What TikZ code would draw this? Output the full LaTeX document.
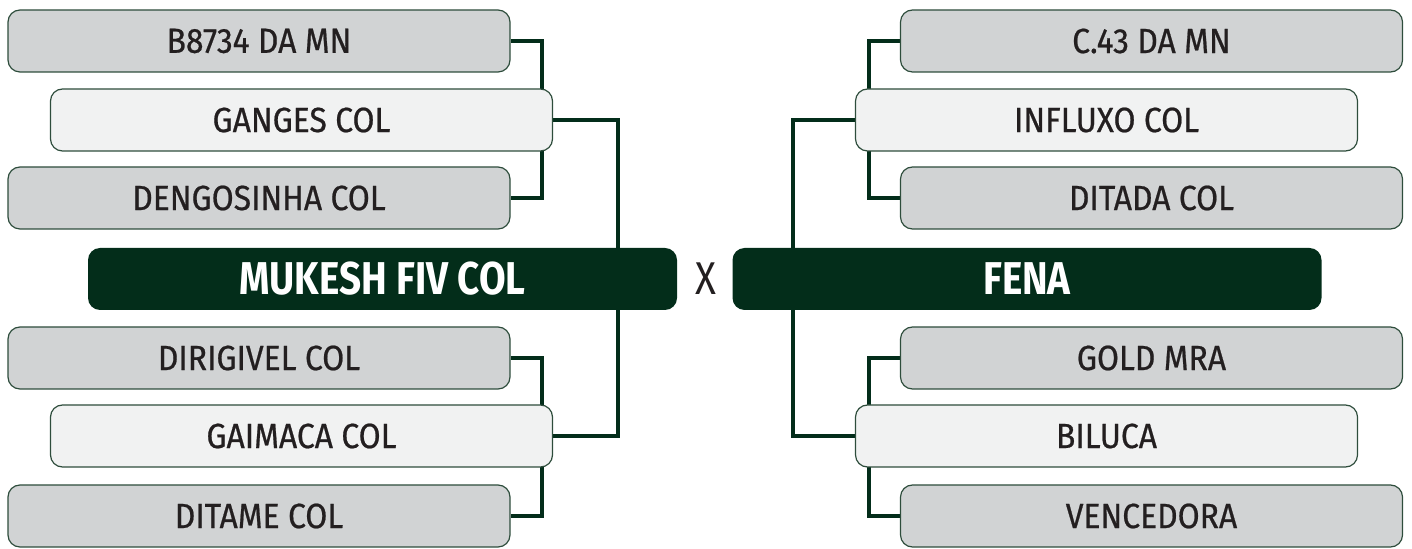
\documentclass[tikz,border=0pt]{standalone}
\usepackage{fontspec}
\setmainfont{Fira Sans}
\newfontfamily\entryfont{Fira Sans}[FakeStretch=0.91, FakeBold=0.6]
\newfontfamily\finalfont{Fira Sans}[FakeStretch=0.84]
\usetikzlibrary{backgrounds,calc}
\definecolor{dgreen}{HTML}{032D1A}
\definecolor{boxgray}{HTML}{D1D3D4}
\definecolor{boxlight}{HTML}{F1F2F2}
\definecolor{edge}{HTML}{2E4D3C}
\definecolor{txt}{HTML}{231F20}
\tikzset{
  entry/.style={rectangle, rounded corners=6pt, draw=edge, line width=0.6pt,
    minimum width=251pt, minimum height=31pt, inner sep=0pt,
    font=\entryfont\fontsize{17.5}{20}\selectfont, text=txt},
  graybox/.style={entry, fill=boxgray},
  lightbox/.style={entry, fill=boxlight},
  finalbox/.style={rectangle, rounded corners=6pt, fill=dgreen, draw=none,
    minimum width=294.5pt, minimum height=31pt, inner sep=0pt,
    font=\finalfont\fontsize{23}{26}\selectfont\bfseries, text=white},
  link/.style={draw=dgreen, line width=2pt}
}
\begin{document}
\begin{tikzpicture}[x=0.5pt,y=-0.5pt]
\useasboundingbox (0,0) rectangle (1412,549);
% left
\node[graybox]  (b8734) at (259,41)    {B8734 DA MN};
\node[lightbox] (ganges) at (301.5,120) {GANGES COL};
\node[graybox]  (dengo) at (259,198)   {DENGOSINHA COL};
\node[finalbox] (mukesh) at (382.5,279) {MUKESH FIV COL};
\node[graybox]  (dirig) at (259,358)   {DIRIGIVEL COL};
\node[lightbox] (gaima) at (301.5,436) {GAIMACA COL};
\node[graybox]  (ditame) at (259,516)  {DITAME COL};
% right
\node[graybox]  (c43) at (1151.5,41)      {C.43 DA MN};
\node[lightbox] (influxo) at (1106.5,120) {INFLUXO COL};
\node[graybox]  (ditada) at (1151.5,198)  {DITADA COL};
\node[finalbox] (fena) at (1027,279)      {FENA};
\node[graybox]  (gold) at (1151.5,358)    {GOLD MRA};
\node[lightbox] (biluca) at (1106.5,436)  {BILUCA};
\node[graybox]  (venc) at (1151.5,516)    {VENCEDORA};
% versus
\node[font=\finalfont\fontsize{23}{26}\selectfont, text=txt] (vs) at (705.5,279) {X};
\begin{pgfonlayer}{background}
\draw[link] (b8734.east) -- ++(31,0) |- (dengo.east);
\draw[link] (dirig.east) -- ++(31,0) |- (ditame.east);
\draw[link] (ganges.east) -- ++(65,0) coordinate (gj) -- (gj |- mukesh.north);
\draw[link] (gaima.east) -- ++(65,0) coordinate (aj) -- (aj |- mukesh.south);
\draw[link] (c43.west) -- ++(-31,0) |- (ditada.west);
\draw[link] (gold.west) -- ++(-31,0) |- (venc.west);
\draw[link] (influxo.west) -- ++(-62,0) coordinate (ij) -- (ij |- fena.north);
\draw[link] (biluca.west) -- ++(-62,0) coordinate (bj) -- (bj |- fena.south);
\end{pgfonlayer}
\end{tikzpicture}
\end{document}
